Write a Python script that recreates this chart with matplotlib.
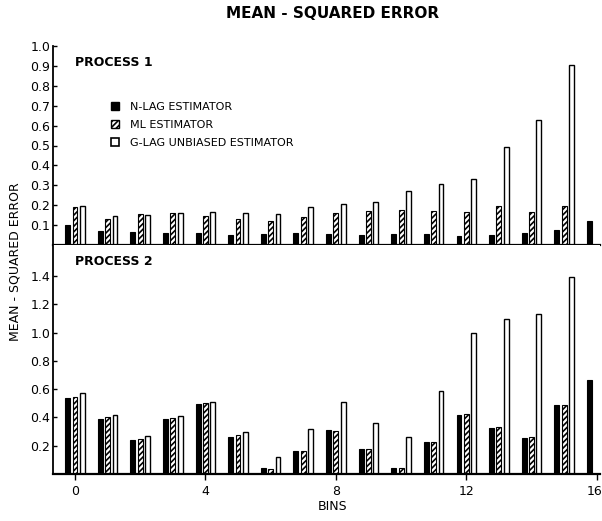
import matplotlib
matplotlib.use("Agg")
import matplotlib.pyplot as plt
from matplotlib.patches import Patch
from matplotlib.transforms import ScaledTranslation
import numpy as np

plt.rcParams['font.family'] = ['DejaVu Sans']
plt.rcParams['hatch.linewidth'] = 1.2

# ---- data ----
bins_nlag = list(range(17))
bins_other = list(range(16))

p1_nlag = [0.100, 0.072, 0.064, 0.060, 0.058, 0.052, 0.054, 0.060, 0.055,
           0.052, 0.056, 0.056, 0.045, 0.052, 0.058, 0.076, 0.120]
p1_ml = [0.190, 0.133, 0.154, 0.160, 0.146, 0.132, 0.120, 0.140,
         0.160, 0.170, 0.178, 0.173, 0.165, 0.195, 0.165, 0.195]
p1_glag = [0.196, 0.145, 0.150, 0.160, 0.164, 0.160, 0.158, 0.190,
           0.205, 0.218, 0.270, 0.308, 0.334, 0.492, 0.628, 0.906]

p2_nlag = [0.540, 0.390, 0.240, 0.390, 0.495, 0.265, 0.043, 0.160, 0.310,
           0.174, 0.043, 0.226, 0.418, 0.326, 0.255, 0.485, 0.665]
p2_ml = [0.545, 0.400, 0.245, 0.395, 0.500, 0.275, 0.038, 0.160,
         0.307, 0.174, 0.043, 0.226, 0.423, 0.330, 0.260, 0.490]
p2_glag = [0.575, 0.420, 0.268, 0.410, 0.512, 0.296, 0.119, 0.321,
           0.510, 0.364, 0.260, 0.584, 0.995, 1.100, 1.135, 1.395]

series_labels = ["N-LAG ESTIMATOR", "ML ESTIMATOR", "G-LAG UNBIASED ESTIMATOR"]
xticks = [0, 4, 8, 12, 16]
xtick_labels = ["0", "4", "8", "12", "16"]
p1_yticks = [0.1, 0.2, 0.3, 0.4, 0.5, 0.6, 0.7, 0.8, 0.9, 1.0]
p2_yticks = [0.2, 0.4, 0.6, 0.8, 1.0, 1.2, 1.4]

# ---- figure ----
W, H = 602, 521
fig = plt.figure(figsize=(W / 100, H / 100), dpi=100)

left = 53 / W
width = (600 - 53) / W
ax1 = fig.add_axes([left, 1 - 245 / H, width, (245 - 46) / H])
ax2 = fig.add_axes([left, 1 - 474 / H, width, (474 - 245) / H])

bw = 0.15
off = 0.225
XL = (-0.675, 16.1)


def draw(ax, nlag, ml, glag):
    ax.bar(np.array(bins_nlag) - off, nlag, width=bw, color='black',
           edgecolor='black', linewidth=0.8)
    ax.bar(np.array(bins_other), ml, width=bw, facecolor='white',
           edgecolor='black', hatch='//////', linewidth=0.8)
    ax.bar(np.array(bins_other) + off, glag, width=bw, facecolor='white',
           edgecolor='black', linewidth=1.0)
    ax.set_xlim(*XL)
    for s in ['top', 'right']:
        ax.spines[s].set_visible(False)
    ax.spines['left'].set_linewidth(1.3)
    ax.spines['bottom'].set_linewidth(1.6)
    ax.set_xticks(xticks)
    ax.tick_params(axis='x', direction='out', length=4, width=1.0,
                   labelsize=9, pad=4)
    ax.tick_params(axis='y', direction='in', length=3, width=1.0,
                   labelsize=9, pad=2)


draw(ax1, p1_nlag, p1_ml, p1_glag)
ax1.set_ylim(0, 1.0)
ax1.set_yticks(p1_yticks)
ax1.set_yticklabels([f"{v:.1f}" for v in p1_yticks])
ax1.tick_params(axis='x', labelbottom=False)
ax1.text(0.04, 0.95, "PROCESS 1", transform=ax1.transAxes, fontsize=9,
         fontweight='bold', va='top', ha='left')

draw(ax2, p2_nlag, p2_ml, p2_glag)
ax2.set_ylim(0, 1.62)
ax2.set_yticks(p2_yticks)
ax2.set_yticklabels([f"{v:.1f}" for v in p2_yticks])
ax2.set_xticklabels(xtick_labels)
last = ax2.get_xticklabels()[-1]
last.set_transform(last.get_transform() +
                   ScaledTranslation(-2.5 / 100, 0, fig.dpi_scale_trans))
ax2.text(0.04, 0.955, "PROCESS 2", transform=ax2.transAxes, fontsize=9,
         fontweight='bold', va='top', ha='left')

handles = [Patch(facecolor='black', edgecolor='black'),
           Patch(facecolor='white', edgecolor='black', hatch='//////'),
           Patch(facecolor='white', edgecolor='black', linewidth=1.2)]
ax1.legend(handles, series_labels, loc='upper left',
           bbox_to_anchor=(0.098, 0.742), frameon=False, fontsize=8,
           handlelength=0.72, handleheight=0.72, labelspacing=0.72,
           handletextpad=1.0, borderaxespad=0)

fig.text(333 / W, 1 - 14 / H, "MEAN - SQUARED ERROR", ha='center',
         va='center', fontsize=11, fontweight='bold')
fig.text(15 / W, 1 - 262 / H, "MEAN - SQUARED ERROR", ha='center',
         va='center', rotation=90, fontsize=9)
fig.text(333 / W, 1 - 507 / H, "BINS", ha='center', va='center', fontsize=9)

fig.savefig("out.png", dpi=100)
